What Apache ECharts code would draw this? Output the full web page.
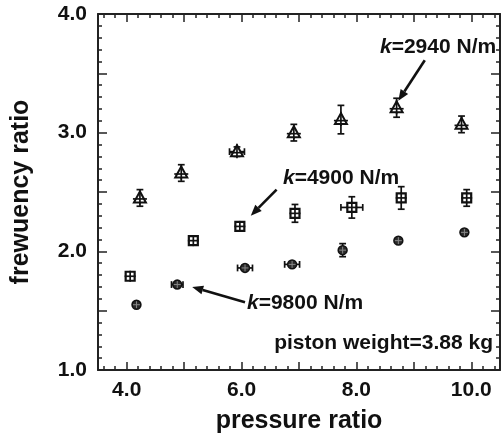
<!DOCTYPE html>
<html><head><meta charset="utf-8">
<script src="https://cdn.jsdelivr.net/npm/echarts@6/dist/echarts.min.js"></script>
<style>html,body{margin:0;padding:0;background:#fff}#c{width:503px;height:439px}</style>
</head><body><div id="c"></div>
<script>
// ---- data ----
const k2940X    = [4.23, 4.95, 5.92, 6.91, 7.73, 8.70, 9.83];
const k2940Y    = [2.45, 2.66, 2.84, 3.00, 3.11, 3.21, 3.07];
const k2940XErr = [0, 0, 0.13, 0, 0, 0, 0];
const k2940YErr = [0.07, 0.07, 0.04, 0.07, 0.12, 0.08, 0.07];

const k4900X    = [4.06, 5.16, 5.97, 6.93, 7.92, 8.78, 9.92];
const k4900Y    = [1.79, 2.09, 2.21, 2.32, 2.37, 2.45, 2.45];
const k4900XErr = [0, 0, 0, 0, 0.19, 0, 0];
const k4900YErr = [0, 0, 0.03, 0.075, 0.09, 0.095, 0.07];

const k9800X    = [4.17, 4.88, 6.06, 6.88, 7.76, 8.73, 9.88];
const k9800Y    = [1.55, 1.72, 1.86, 1.89, 2.01, 2.09, 2.16];
const k9800XErr = [0, 0.1, 0.13, 0.13, 0, 0, 0];
const k9800YErr = [0, 0, 0, 0, 0.055, 0, 0];

const xTickLabels = [4, 6, 8, 10];
const xMajorTicks = [4, 5, 6, 7, 8, 9, 10];
const yTickLabels = [1, 2, 3, 4];
const yMajorTicks = [1, 1.5, 2, 2.5, 3, 3.5, 4];
const xMinorTicks = []; for (let v = 36; v <= 104; v += 2) xMinorTicks.push(v / 10);
const yMinorTicks = []; for (let v = 11; v <= 39; v += 1) yMinorTicks.push(v / 10);

// annotation arrows [fromX, fromY, toX, toY] in data units, and texts
const arrow2940 = [9.19, 3.61, 8.73, 3.27];
const arrow4900 = [6.61, 2.52, 6.16, 2.30];
const arrow9800 = [6.06, 1.57, 5.14, 1.70];
const labels = ['k', '=2940 N/m', '=4900 N/m', '=9800 N/m', 'piston weight=3.88 kg'];
const xTitle = 'pressure ratio';
const yTitle = 'frewuency ratio';

const INK = '#111';
const FRAME = '#222';
const FONT = 'Liberation Sans, Arial, sans-serif';

function makeSeries(name, xs, ys, xe, ye, shape) {
  const data = xs.map((x, i) => [x, ys[i], xe[i], ye[i]]);
  return {
    type: 'custom', name, data, xAxisIndex: 0, yAxisIndex: 0, clip: false, z: 5,
    renderItem(params, api) {
      const x = api.value(0), y = api.value(1), dx = api.value(2), dy = api.value(3);
      const c = api.coord([x, y]);
      const st = { stroke: INK, lineWidth: 1.7, fill: null };
      const ch = [];
      const cap = 3.4;
      const line = (x1, y1, x2, y2, s) => ch.push({ type: 'line', shape: { x1, y1, x2, y2 }, style: s || st });
      if (dy > 0) {
        const t = api.coord([x, y + dy])[1], b = api.coord([x, y - dy])[1];
        line(c[0], t, c[0], b);
        line(c[0] - cap, t, c[0] + cap, t);
        line(c[0] - cap, b, c[0] + cap, b);
      }
      if (dx > 0) {
        const l = api.coord([x - dx, y])[0], r = api.coord([x + dx, y])[0];
        line(l, c[1], r, c[1]);
        line(l, c[1] - cap, l, c[1] + cap);
        line(r, c[1] - cap, r, c[1] + cap);
      }
      if (shape === 'triangle') {
        ch.push({ type: 'polygon', shape: { points: [[c[0], c[1] - 6.5], [c[0] - 6, c[1] + 4.5], [c[0] + 6, c[1] + 4.5]] },
          style: { stroke: INK, lineWidth: 2, fill: '#fff' } });
        line(c[0], c[1] - 7.5, c[0], c[1] + 6.5);
        line(c[0] - 7, c[1] + 1, c[0] + 7, c[1] + 1);
      } else if (shape === 'square') {
        ch.push({ type: 'rect', shape: { x: c[0] - 4.5, y: c[1] - 4.5, width: 9, height: 9 },
          style: { stroke: INK, lineWidth: 2.2, fill: '#fff' } });
        line(c[0], c[1] - 5.5, c[0], c[1] + 5.5);
        line(c[0] - 5.5, c[1], c[0] + 5.5, c[1]);
      } else {
        ch.push({ type: 'circle', shape: { cx: c[0], cy: c[1], r: 4.4 },
          style: { stroke: INK, lineWidth: 1.6, fill: '#2a2a2a' } });
        const cs = { stroke: '#888', lineWidth: 1 };
        line(c[0], c[1] - 3.5, c[0], c[1] + 3.5, cs);
        line(c[0] - 3.5, c[1], c[0] + 3.5, c[1], cs);
      }
      return { type: 'group', children: ch };
    }
  };
}

function xAxisDef(pos, ticks, len, showLine, withLabels) {
  return {
    type: 'value', position: pos, min: 3.5, max: 10.5,
    axisLine: { show: showLine, lineStyle: { color: FRAME, width: 2 } },
    axisTick: { show: true, inside: true, length: len, customValues: ticks, lineStyle: { color: FRAME, width: 1.5 } },
    axisLabel: withLabels ? { show: true, customValues: xTickLabels, formatter: v => Number(v).toFixed(1),
      fontSize: 21, fontWeight: 'bold', color: INK, fontFamily: FONT, margin: 10 } : { show: false },
    splitLine: { show: false },
    name: withLabels ? xTitle : '', nameLocation: 'middle', nameGap: 39,
    nameTextStyle: { fontSize: 25, fontWeight: 'bold', color: INK, fontFamily: FONT }
  };
}
function yAxisDef(pos, ticks, len, showLine, withLabels) {
  return {
    type: 'value', position: pos, min: 1, max: 4,
    axisLine: { show: showLine, lineStyle: { color: FRAME, width: 2 } },
    axisTick: { show: true, inside: true, length: len, customValues: ticks, lineStyle: { color: FRAME, width: 1.5 } },
    axisLabel: withLabels ? { show: true, customValues: yTickLabels, formatter: v => Number(v).toFixed(1),
      fontSize: 21, fontWeight: 'bold', color: INK, fontFamily: FONT, margin: 11 } : { show: false },
    splitLine: { show: false },
    name: withLabels ? yTitle : '', nameLocation: 'middle', nameGap: 64,
    nameTextStyle: { fontSize: 25, fontWeight: 'bold', color: INK, fontFamily: FONT }
  };
}

const chart = echarts.init(document.getElementById('c'), null, { renderer: 'canvas' });
chart.setOption({
  animation: false,
  backgroundColor: '#fff',
  grid: { left: 98, right: 3, top: 14, bottom: 69, containLabel: false },
  xAxis: [
    xAxisDef('bottom', xMajorTicks, 8, true, true),
    xAxisDef('bottom', xMinorTicks, 4, false, false),
    xAxisDef('top', xMajorTicks, 8, true, false),
    xAxisDef('top', xMinorTicks, 4, false, false)
  ],
  yAxis: [
    yAxisDef('left', yMajorTicks, 9, true, true),
    yAxisDef('left', yMinorTicks, 4, false, false),
    yAxisDef('right', yMajorTicks, 9, true, false),
    yAxisDef('right', yMinorTicks, 4, false, false)
  ],
  series: [
    makeSeries('k=2940 N/m', k2940X, k2940Y, k2940XErr, k2940YErr, 'triangle'),
    makeSeries('k=4900 N/m', k4900X, k4900Y, k4900XErr, k4900YErr, 'square'),
    makeSeries('k=9800 N/m', k9800X, k9800Y, k9800XErr, k9800YErr, 'circle')
  ]
});

function arrowGraphic(a) {
  const p0 = chart.convertToPixel({ xAxisIndex: 0, yAxisIndex: 0 }, [a[0], a[1]]);
  const p1 = chart.convertToPixel({ xAxisIndex: 0, yAxisIndex: 0 }, [a[2], a[3]]);
  const ang = Math.atan2(p1[1] - p0[1], p1[0] - p0[0]);
  const L = 11, W = 4.5;
  const bx = p1[0] - L * Math.cos(ang), by = p1[1] - L * Math.sin(ang);
  const nx = -Math.sin(ang), ny = Math.cos(ang);
  return [
    { type: 'line', shape: { x1: p0[0], y1: p0[1], x2: bx, y2: by }, style: { stroke: INK, lineWidth: 2.6 }, z: 10 },
    { type: 'polygon', shape: { points: [[p1[0], p1[1]], [bx + nx * W, by + ny * W], [bx - nx * W, by - ny * W]] },
      style: { fill: INK }, z: 10 }
  ];
}
function kText(x, y, rest) {
  return {
    type: 'text', x, y, z: 10,
    style: {
      text: '{i|' + labels[0] + '}{b|' + rest + '}', verticalAlign: 'middle', align: 'left',
      rich: {
        i: { fontSize: 21, fontWeight: 'bold', fontStyle: 'italic', fill: INK, fontFamily: FONT },
        b: { fontSize: 21, fontWeight: 'bold', fill: INK, fontFamily: FONT }
      }
    }
  };
}

chart.setOption({
  graphic: [
    ...arrowGraphic(arrow2940),
    ...arrowGraphic(arrow4900),
    ...arrowGraphic(arrow9800),
    kText(380, 47, labels[1]),
    kText(283, 178, labels[2]),
    kText(247, 303, labels[3]),
    { type: 'text', x: 493, y: 343, z: 10,
      style: { text: labels[4], align: 'right', verticalAlign: 'middle',
        fontSize: 21, fontWeight: 'bold', fill: INK, fontFamily: FONT } }
  ]
});
</script></body></html>
